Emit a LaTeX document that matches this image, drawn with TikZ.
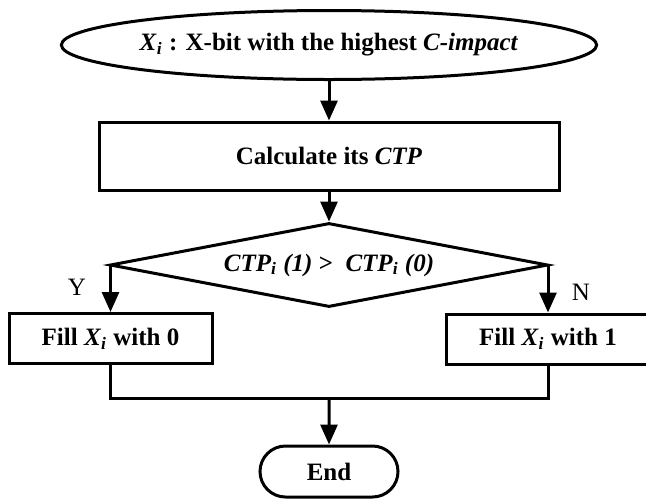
\documentclass[tikz,border=0pt]{standalone}
\usepackage{fontspec}
\setmainfont{Liberation Serif}
\usetikzlibrary{shapes.geometric,shapes.misc,arrows.meta}

\newcommand{\Xsubi}{\textit{X}\textsubscript{\textit{i}}}
\newcommand{\CTPsubi}{\textit{CTP}\textsubscript{\textit{i}}}

\tikzset{
    base/.style={draw, line width=1.5pt, inner sep=0pt, align=center,
        font=\fontsize{12.5}{15}\selectfont\bfseries},
    startnode/.style={base, ellipse, minimum width=266pt, minimum height=34.5pt},
    procbox/.style={base, rectangle, minimum width=230pt, minimum height=34pt},
    fillbox/.style={base, rectangle, minimum width=101.5pt, minimum height=25pt},
    decision/.style={base, diamond, aspect=5.2, minimum width=219pt, minimum height=42pt},
    stopnode/.style={base, rounded rectangle, minimum width=69pt, minimum height=25.5pt},
    branch/.style={font=\fontsize{12.5}{15}\selectfont},
    arrow/.style={line width=1.5pt, -{Triangle[width=8.5pt,length=10pt]}},
    link/.style={line width=1.5pt}
}

\begin{document}
\begin{tikzpicture}[x=0.5pt,y=-0.5pt]
    \clip (0,0) rectangle (646,499);

    \node[startnode] (start) at (329,45) {\Xsubi{} : X-bit with the highest \textit{C-impact}};
    \node[procbox] (calc) at (329,156) {Calculate its \textit{CTP}};
    \node[decision] (cond) at (329,265) {\CTPsubi{} \textit{(1)} {>}~ \CTPsubi{} \textit{(0)}};
    \node[fillbox] (fill0) at (110.5,338.5) {Fill \Xsubi{} with 0};
    \node[fillbox] (fill1) at (548,339) {Fill \Xsubi{} with 1};
    \node[stopnode] (stop) at (329,471.5) {End};

    \node[branch] (ylab) at (77,287) {Y};
    \node[branch] (nlab) at (581,292) {N};

    \coordinate (join) at (329,398);

    \draw[arrow] (start) -- (calc);
    \draw[arrow] (calc) -- (cond);
    \draw[arrow] (cond.west) -| (fill0.north);
    \draw[arrow] (cond.east) -| (fill1.north);
    \draw[link] (fill0.south) |- (join) -| (fill1.south);
    \draw[arrow] (join) -- (stop);
\end{tikzpicture}
\end{document}
